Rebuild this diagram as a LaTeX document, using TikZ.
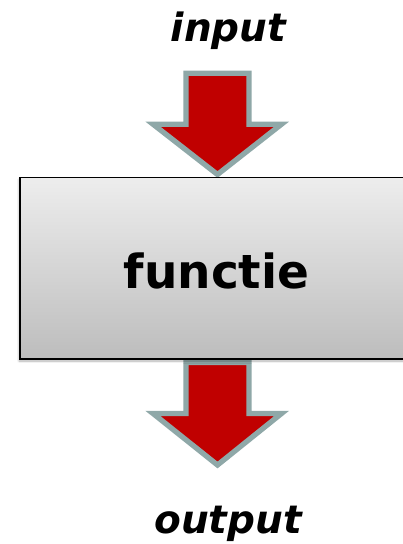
\documentclass[tikz,border=0pt]{standalone}
\usepackage{fontspec}
\setmainfont{DejaVu Sans}
\usepackage{tikz}
\usetikzlibrary{shadows.blur}
\definecolor{pijlrood}{HTML}{C00000}
\definecolor{pijlrand}{HTML}{8FA8A8}
\tikzset{
  pijl/.style={fill=pijlrood,draw=pijlrand,line width=5.3pt,line join=miter},
  blok/.style={draw=black,line width=1.5pt,top color=black!7,bottom color=black!26,
    blur shadow={shadow xshift=-1pt,shadow yshift=-2pt,shadow blur steps=6,shadow opacity=30}},
  label/.style={font=\bfseries\itshape\fontsize{39}{41}\selectfont,anchor=base}
}
\begin{document}
\begin{tikzpicture}[x=1pt,y=-1pt]
\useasboundingbox (0,0) rectangle (402,544);
% arrows (drawn first, the box lies over their ends)
\draw[pijl] (186,73.3) -- (249,73.3) -- (249,124.2) -- (281.5,124.2) -- (217.5,174.5)
  -- (153,124.2) -- (186,124.2) -- cycle;
\draw[pijl] (186,362.5) -- (249,362.5) -- (249,413.5) -- (281.5,413.5) -- (217.5,465)
  -- (153,413.5) -- (186,413.5) -- cycle;
% the function box
\draw[blok] (20,177.5) rectangle (405,359);
\node[anchor=base,font=\bfseries\fontsize{47}{50}\selectfont] (functie) at (216.5,288) {functie};
\node[label] (input) at (228.5,41) {input};
\node[label] (output) at (228,533) {output};
\end{tikzpicture}
\end{document}
